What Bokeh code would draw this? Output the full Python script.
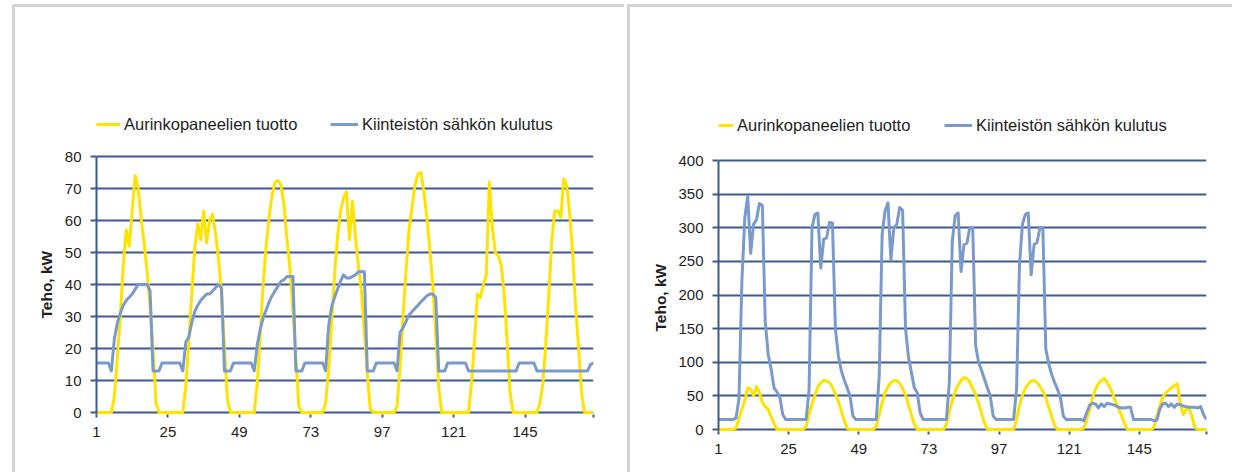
from bokeh.plotting import figure
from bokeh.models import Range1d, FixedTicker, Legend, LegendItem, Title
from bokeh.embed import file_html
from bokeh.resources import INLINE

# Hour index of the week (7 days x 24 h)
hours = list(range(1, 169))
tick_hours = [1, 25, 49, 73, 97, 121, 145, 168]

PV_LABEL = "Aurinkopaneelien tuotto"
LOAD_LABEL = "Kiinteistön sähkön kulutus"
Y_TITLE = "Teho, kW"

# Building A: solar production (kW), hourly
left_pv = [
    0, 0, 0, 0, 0, 0, 5, 17, 30, 46, 57, 52, 63, 74, 70, 61, 53, 44, 33, 20, 3, 0, 0, 0,
    0, 0, 0, 0, 0, 0, 8, 22, 37, 51, 59, 54, 63, 53, 60, 62, 56, 48, 37, 20, 4, 0, 0, 0,
    0, 0, 0, 0, 0, 0, 9, 24, 40, 52, 61, 68, 72, 72.5, 71, 65, 54, 45, 32, 17, 2, 0, 0, 0,
    0, 0, 0, 0, 0, 3, 13, 28, 43, 55, 63, 67, 69, 54, 66, 55, 46, 38, 25, 12, 1, 0, 0, 0,
    0, 0, 0, 0, 0, 2, 14, 30, 44, 57, 64, 71, 74.5, 75, 69, 61, 51, 40, 24, 8, 0, 0, 0, 0,
    0, 0, 0, 0, 0, 0, 9, 22, 37, 36, 40, 43, 72, 58, 50, 49, 46, 37, 22, 6, 0, 0, 0, 0,
    0, 0, 0, 0, 0, 3, 9, 22, 37, 54, 63, 63, 61, 73, 71, 62, 50, 33, 20, 6, 0, 0, 0, 0,
]

# Building A: electricity consumption (kW), hourly
left_load = [
    15.5, 15.5, 15.5, 15.5, 15.5, 13, 23, 28, 31, 33.5, 35, 36, 37, 38.5, 40, 40, 40, 40, 38, 13, 13, 13, 15.5, 15.5,
    15.5, 15.5, 15.5, 15.5, 15.5, 13, 22, 23.5, 28, 31.5, 33.5, 35, 36, 37, 37, 38, 39, 40, 39, 13, 13, 13, 15.5, 15.5,
    15.5, 15.5, 15.5, 15.5, 15.5, 13, 21, 26, 29.5, 32, 34.5, 36.5, 38, 39.5, 41, 41.5, 42.5, 42.5, 42.5, 13, 13, 13, 15.5, 15.5,
    15.5, 15.5, 15.5, 15.5, 15.5, 13, 27, 33, 36, 38.5, 41, 43, 42, 42, 42.5, 43, 44, 44, 44, 13, 13, 13, 15.5, 15.5,
    15.5, 15.5, 15.5, 15.5, 15.5, 13, 25, 26.5, 28.5, 30.5, 31.5, 32.5, 33.5, 34.5, 35.5, 36.5, 37, 37, 36, 13, 13, 13, 15.5, 15.5,
    15.5, 15.5, 15.5, 15.5, 15.5, 13, 13, 13, 13, 13, 13, 13, 13, 13, 13, 13, 13, 13, 13, 13, 13, 13, 15.5, 15.5,
    15.5, 15.5, 15.5, 15.5, 13, 13, 13, 13, 13, 13, 13, 13, 13, 13, 13, 13, 13, 13, 13, 13, 13, 13, 15, 15.5,
]

# Building B: solar production (kW), hourly
right_pv = [
    0, 0, 0, 0, 0, 0, 2, 16, 30, 43, 62, 60, 50, 64, 55, 40, 34, 30, 19, 9, 0, 0, 0, 0,
    0, 0, 0, 0, 0, 0, 5, 22, 38, 51, 63, 70, 73, 72.5, 70, 63, 53, 42, 28, 14, 2, 0, 0, 0,
    0, 0, 0, 0, 0, 0, 5, 22, 40, 55, 64, 70, 73, 73, 69, 61, 52, 37, 22, 8, 0, 0, 0, 0,
    0, 0, 0, 0, 0, 0, 8, 27, 43, 57, 66, 73, 77, 76, 70, 61, 52, 39, 25, 10, 0, 0, 0, 0,
    0, 0, 0, 0, 0, 0, 14, 36, 51, 61, 68, 72, 73, 70, 64, 57, 47, 33, 20, 6, 0, 0, 0, 0,
    0, 0, 0, 0, 0, 2, 14, 30, 47, 60, 68, 73, 76, 70, 62, 52, 40, 30, 20, 8, 0, 0, 0, 0,
    0, 0, 0, 0, 0, 3, 20, 35, 48, 54, 58, 62, 65, 68, 40, 22, 30, 32, 20, 3, 0, 0, 0, 0,
]

# Building B: electricity consumption (kW), hourly
right_load = [
    15, 15, 15, 15, 15, 15, 17, 45, 220, 315, 347, 262, 305, 312, 336, 333, 160, 112, 90, 62, 56, 48, 22, 15,
    15, 15, 15, 15, 15, 15, 15, 60, 300, 320, 322, 240, 283, 285, 308, 307, 150, 110, 88, 74, 62, 50, 20, 15,
    15, 15, 15, 15, 15, 15, 15, 80, 290, 325, 337, 252, 300, 305, 330, 326, 150, 108, 85, 62, 55, 25, 15, 15,
    15, 15, 15, 15, 15, 15, 15, 70, 280, 318, 322, 235, 275, 277, 300, 300, 125, 100, 88, 75, 62, 50, 20, 15,
    15, 15, 15, 15, 15, 15, 60, 245, 305, 320, 322, 230, 275, 278, 300, 300, 120, 98, 82, 70, 60, 48, 20, 15,
    15, 15, 15, 15, 15, 13, 25, 36, 39, 38, 32, 38, 34, 39, 38, 37, 35, 33, 32, 32, 33, 33, 15, 15,
    15, 15, 15, 15, 15, 13, 14, 30, 38, 39, 34, 38, 33, 38, 37, 35, 34, 33, 33, 33, 32, 34, 22, 15,
]

PV_COLOR = "#FFE300"
LOAD_COLOR = "#7A9ACC"
GRID_COLOR = "#3D5B8D"
FRAME_GRAY = "#D3D3D3"
TEXT_COLOR = "#1E1E1E"
FONT = "Liberation Sans"


def panel(pv, load, width, ymax, ystep, ylo, yhi, border_l, border_r, border_t, border_b,
          legend_x, legend_w, legend_y, title_offset, box_styles):
    # the frame also holds the legend strip above the top gridline
    p = figure(width=width, height=468, title=None,
               x_range=Range1d(1, 168), y_range=Range1d(ylo, yhi),
               output_backend="svg", toolbar_location=None,
               min_border_left=border_l, min_border_right=border_r,
               min_border_top=border_t, min_border_bottom=border_b,
               background_fill_color="white", border_fill_color="white",
               outline_line_color=None, styles=box_styles)

    r_pv = p.line(hours, pv, line_color=PV_COLOR, line_width=3, line_join="round")
    r_load = p.line(hours, load, line_color=LOAD_COLOR, line_width=3, line_join="round")

    # x axis: category-style ticks every 24 hours
    xa = p.xaxis[0]
    xa.ticker = FixedTicker(ticks=tick_hours)
    xa.major_label_overrides = {168: ""}
    xa.axis_line_color = None
    xa.major_tick_line_color = GRID_COLOR
    xa.major_tick_line_width = 2
    xa.major_tick_in = 0
    xa.major_tick_out = 3
    xa.minor_tick_line_color = None
    xa.major_label_standoff = 9
    xa.major_label_text_font = FONT
    xa.major_label_text_font_size = "15px"
    xa.major_label_text_color = TEXT_COLOR

    ya = p.yaxis[0]
    ya.ticker = FixedTicker(ticks=list(range(0, ymax + 1, ystep)))
    ya.bounds = (ylo, ymax)
    ya.axis_line_color = GRID_COLOR
    ya.axis_line_width = 2
    ya.major_tick_line_color = GRID_COLOR
    ya.major_tick_line_width = 2
    ya.major_tick_in = 0
    ya.major_tick_out = 6
    ya.minor_tick_line_color = None
    ya.major_label_standoff = 9
    ya.major_label_text_font = FONT
    ya.major_label_text_font_size = "15px"
    ya.major_label_text_color = TEXT_COLOR

    # y axis title, centred on the gridded part of the frame
    p.add_layout(Title(text=Y_TITLE, align="left", offset=title_offset, standoff=14,
                       text_font=FONT, text_font_style="bold",
                       text_font_size="15.5px", text_color=TEXT_COLOR), "left")

    p.xgrid.grid_line_color = None
    p.ygrid.grid_line_color = GRID_COLOR
    p.ygrid.grid_line_width = 2

    for label, rend, lx, gw in ((PV_LABEL, r_pv, legend_x[0], legend_w[0]),
                                (LOAD_LABEL, r_load, legend_x[1], legend_w[1])):
        leg = Legend(items=[LegendItem(label=label, renderers=[rend])],
                     location=(lx, legend_y), orientation="horizontal",
                     padding=0, margin=0, spacing=0,
                     border_line_color=None, background_fill_alpha=0,
                     glyph_width=gw, glyph_height=20, label_height=20,
                     label_standoff=4,
                     label_text_font=FONT, label_text_font_size="16.5px",
                     label_text_color=TEXT_COLOR)
        p.add_layout(leg)
    return p


def box(left_px):
    # each chart sits in its own light gray framed box
    return {"position": "absolute", "left": f"{left_px}px", "top": "4px",
            "border-left": f"3px solid {FRAME_GRAY}",
            "border-top": f"3px solid {FRAME_GRAY}"}


left = panel(left_pv, left_load, 612, 80, 10, -0.625, 97.5, 81, 34, 93, 61,
             (0, 234), (24, 28), 280, 96, box(12))
right = panel(right_pv, right_load, 605, 400, 50, -2.974, 481.8, 88, 29, 98, 44,
              (0, 226), (15, 28), 296, 100, box(627))

open("out.html", "w").write(file_html([left, right], INLINE))
